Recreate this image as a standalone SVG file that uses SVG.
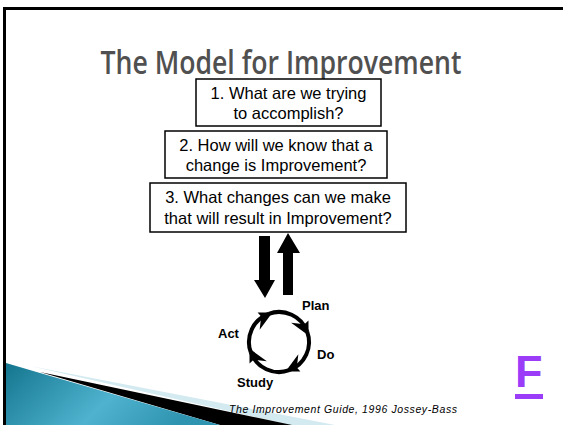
<svg xmlns="http://www.w3.org/2000/svg" width="563" height="425" viewBox="0 0 563 425">
<style>
.box{fill:#fff;stroke:#000;stroke-width:1.5}
.bt{font-family:"Liberation Sans",Arial,sans-serif;font-size:16.5px;fill:#000;text-anchor:middle}
.lbl{font-family:"Liberation Sans",Arial,sans-serif;font-size:13px;font-weight:bold;fill:#000}
.arc{fill:none;stroke:#000;stroke-width:4}
</style>
<defs>
<linearGradient id="teal" x1="0" y1="0" x2="1" y2="0.3">
<stop offset="0" stop-color="#14758e"/>
<stop offset="0.6" stop-color="#4fb3cf"/>
<stop offset="1" stop-color="#2f94b0"/>
</linearGradient>
<marker id="barb" markerUnits="userSpaceOnUse" markerWidth="30" markerHeight="30" refX="0" refY="0" viewBox="-15 -15 30 30" orient="auto" overflow="visible">
<polygon points="4,0 -10,-5 -8,0 -14,12" fill="#000"/>
</marker>
</defs>
<rect x="0" y="0" width="563" height="425" fill="#fff"/>
<g id="swoosh">
<polygon points="30,366 335,425 290,425" fill="#d3eaf1"/>
<polygon points="40,372 292,425 220,425" fill="#000"/>
<polygon points="6,363 40,373 220,425 6,425" fill="url(#teal)"/>
</g>
<g id="border">
<rect x="3" y="7" width="560" height="3" fill="#000"/>
<rect x="3" y="7" width="3" height="418" fill="#000"/>
</g>
<g id="title">
<text x="281" y="74" font-family="'Open Sans','Noto Sans',sans-serif" font-size="32" font-weight="600" fill="#505050" text-anchor="middle" textLength="361" lengthAdjust="spacingAndGlyphs">The Model for Improvement</text>
</g>
<g id="q1">
<rect class="box" x="196" y="79" width="185" height="47"/>
<text class="bt" x="288.5" y="99">1. What are we trying</text>
<text class="bt" x="288.5" y="119">to accomplish?</text>
</g>
<g id="q2">
<rect class="box" x="165" y="131" width="222" height="47"/>
<text class="bt" x="276" y="151">2. How will we know that a</text>
<text class="bt" x="276" y="171">change is Improvement?</text>
</g>
<g id="q3">
<rect class="box" x="150" y="183" width="256" height="49"/>
<text class="bt" x="278" y="203">3. What changes can we make</text>
<text class="bt" x="278" y="224">that will result in Improvement?</text>
</g>
<g id="connectors">
<polygon points="259,236 270,236 270,280 275,280 265,298 254,280 259,280" fill="#000"/>
<polygon points="288,233 300,253 293,253 293,295 283,295 283,253 277,253" fill="#000"/>
<path class="arc" d="M250.8,352.3 A30,30 0 0 1 268.7,313.8" marker-end="url(#barb)"/>
<path class="arc" d="M268.7,313.8 A30,30 0 0 1 307.2,331.7" marker-end="url(#barb)"/>
<path class="arc" d="M307.2,331.7 A30,30 0 0 1 289.3,370.2" marker-end="url(#barb)"/>
<path class="arc" d="M289.3,370.2 A30,30 0 0 1 250.8,352.3" marker-end="url(#barb)"/>
</g>
<g id="plan"><text class="lbl" x="302" y="310">Plan</text></g>
<g id="do"><text class="lbl" x="317" y="359">Do</text></g>
<g id="study"><text class="lbl" x="237" y="387">Study</text></g>
<g id="act"><text class="lbl" x="218" y="338">Act</text></g>
<g id="citation">
<text x="229" y="413" font-family="'Liberation Sans',Arial,sans-serif" font-size="10.5" font-style="italic" fill="#000" textLength="228" lengthAdjust="spacing">The Improvement Guide, 1996 Jossey-Bass</text>
</g>
<g id="flag">
<text x="515" y="387" font-family="'Liberation Sans',Arial,sans-serif" font-size="45" font-weight="bold" fill="#9a3cf8">F</text>
<rect x="515" y="394" width="28" height="5" fill="#9a3cf8"/>
</g>
</svg>
